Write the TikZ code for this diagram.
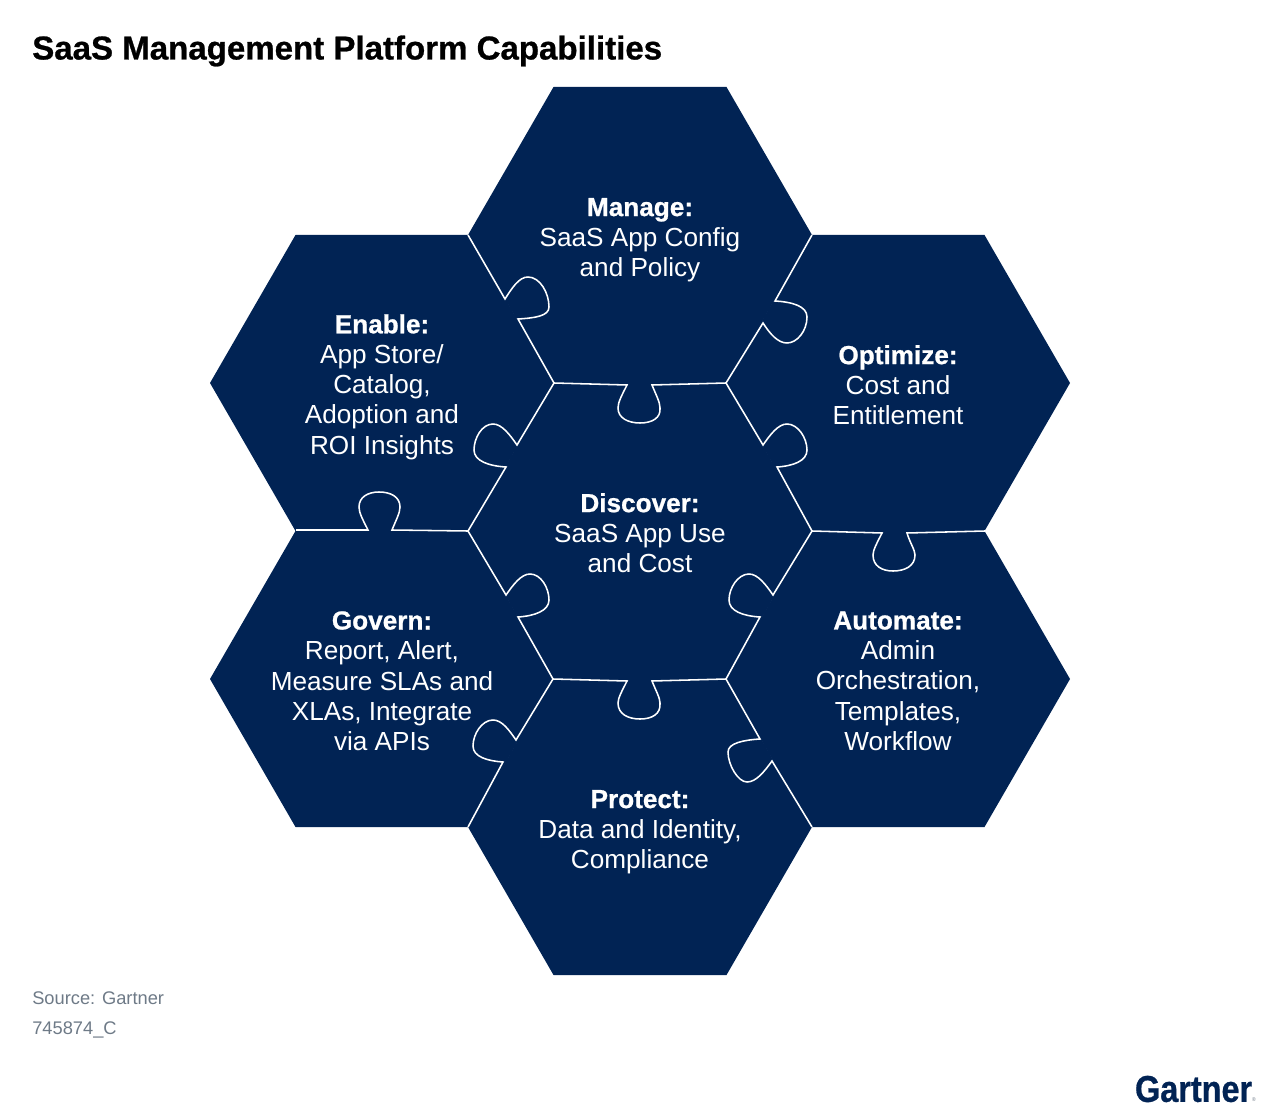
\documentclass[tikz,border=0pt]{standalone}
\usepackage{fontspec}
\setmainfont{Liberation Sans}
\usepackage{xcolor}
\definecolor{navy}{RGB}{1,35,84}
\definecolor{footgrey}{RGB}{110,122,135}
\newcommand{\heavy}[1]{{\bfseries\addfontfeature{FakeBold=0.8}#1}}
\tikzset{
	hexcell/.style={fill=navy},
	seam/.style={draw=white,line width=1.1pt,line join=miter},
	hexlabel/.style={text=white,align=center,font=\fontsize{18.6}{21.5}\selectfont},
	foot/.style={text=footgrey,anchor=west,inner sep=0pt,font=\fontsize{13}{15}\selectfont}
}
\begin{document}
\begin{tikzpicture}[x=0.025cm,y=-0.025cm]

	\useasboundingbox (0,0) rectangle (1280,1115);

	\node [anchor=west,inner sep=0pt,font=\fontsize{23.5}{26}\selectfont] (title) at (32,51) {\heavy{SaaS Management Platform Capabilities}};

	% the seven cells
	\foreach \x/\y in {640/235,382/383,898/383,640/531,382/679,898/679,640/827} {
		\fill [hexcell] (\x-172,\y) -- (\x-86.5,\y-148) -- (\x+86.5,\y-148) -- (\x+172,\y) -- (\x+86.5,\y+148) -- (\x-86.5,\y+148) -- cycle;
	}

	% seams around manage
	\draw [seam] (468,235) -- (505,299) .. controls (512,288) and (519,277) .. (528,277) .. controls (540,277) and (549,293) .. (549,307) .. controls (549,316) and (535,318) .. (518,319) -- (554,383);
	\draw [seam] (812,235) -- (775,301) .. controls (792,302) and (807,306) .. (807,317) .. controls (807,331) and (797,343) .. (787,343) .. controls (778,343) and (770,334) .. (763,323) -- (726,383);
	\draw [seam] (554,383) -- (627,385) .. controls (622,395) and (618,402) .. (618,408) .. controls (618,418) and (628,423) .. (640,423) .. controls (652,423) and (661,418) .. (660,408) .. controls (660,402) and (656,395) .. (652,385) -- (726,383);

	% seams around discover
	\draw [seam] (726,383) -- (763,445) .. controls (770,435) and (778,424) .. (787,424) .. controls (798,424) and (807,438) .. (807,450) .. controls (807,461) and (793,466) .. (777,467) -- (812,531);
	\draw [seam] (812,531) -- (773,595) .. controls (766,585) and (758,574) .. (749,574) .. controls (738,574) and (729,588) .. (729,600) .. controls (729,611) and (743,616) .. (760,617) -- (726,679);
	\draw [seam] (553,679) -- (627,681) .. controls (622,691) and (618,698) .. (618,703) .. controls (618,714) and (628,719) .. (640,719) .. controls (652,719) and (661,714) .. (660,703) .. controls (660,698) and (656,691) .. (652,681) -- (726,679);
	\draw [seam] (468,531) -- (506,595) .. controls (513,585) and (521,574) .. (530,574) .. controls (541,574) and (549,588) .. (549,600) .. controls (549,611) and (534,616) .. (518,617) -- (553,679);
	\draw [seam] (554,383) -- (517,445) .. controls (510,435) and (502,424) .. (493,424) .. controls (482,424) and (474,438) .. (474,450) .. controls (474,461) and (489,466) .. (506,467) -- (468,531);

	% outer seams
	\draw [seam] (812,531) -- (882,533) .. controls (877,543) and (873,550) .. (873,555) .. controls (873,566) and (882,571) .. (893,571) .. controls (905,571) and (915,566) .. (915,555) .. controls (915,550) and (910,543) .. (907,533) -- (985,531);
	\draw [seam] (726,679) -- (760,739) .. controls (744,740) and (728,743) .. (728,752) .. controls (728,765) and (738,782) .. (747,782) .. controls (756,782) and (764,772) .. (772,761) -- (812,827);
	\draw [seam] (553,679) -- (516,740) .. controls (509,730) and (502,720) .. (493,720) .. controls (482,720) and (473,734) .. (473,746) .. controls (473,757) and (488,761) .. (503,762) -- (468,827);
	\draw [seam] (296,530) -- (368,530) .. controls (363,520) and (359,513) .. (359,507) .. controls (359,497) and (368,492) .. (379,492) .. controls (391,492) and (400,497) .. (400,507) .. controls (400,513) and (396,520) .. (392,530) -- (468,531);

	\node [hexlabel] (manage) at (640,240) {\heavy{Manage:}\\SaaS App Config\\and Policy};
	\node [hexlabel] (enable) at (382,387) {\heavy{Enable:}\\App Store/\\Catalog,\\Adoption and\\ROI Insights};
	\node [hexlabel] (optimize) at (898,385) {\heavy{Optimize:}\\Cost and\\Entitlement};
	\node [hexlabel] (discover) at (640,533) {\heavy{Discover:}\\SaaS App Use\\and Cost};
	\node [hexlabel] (govern) at (382,681) {\heavy{Govern:}\\Report, Alert,\\Measure SLAs and\\XLAs, Integrate\\via APIs};
	\node [hexlabel] (automate) at (898,681) {\heavy{Automate:}\\Admin\\Orchestration,\\Templates,\\Workflow};
	\node [hexlabel] (protect) at (640,832) {\heavy{Protect:}\\Data and Identity,\\Compliance};

	\node [foot] (source) at (32,998) {Source: Gartner};
	\node [foot] (docid) at (32,1030) {745874\_C};

	\node [anchor=east,inner sep=0pt,xscale=0.87,text=navy,font=\fontsize{26.5}{28}\selectfont] (logo) at (1256,1089) {\heavy{Gartner}\raisebox{0pt}{\fontsize{4}{4}\selectfont\textcolor{footgrey}{®}}};

\end{tikzpicture}
\end{document}
